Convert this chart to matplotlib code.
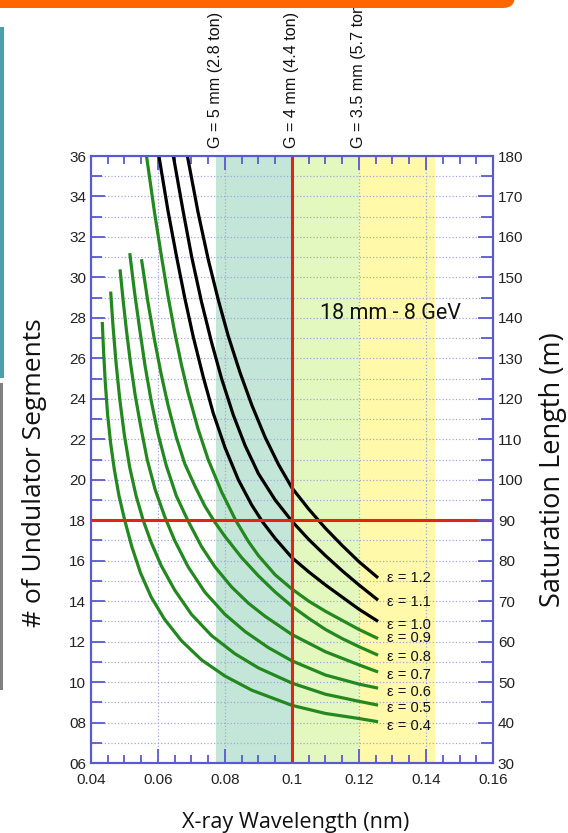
import matplotlib
matplotlib.use("Agg")
import matplotlib.pyplot as plt
from matplotlib.patches import Rectangle, FancyBboxPatch
from matplotlib.ticker import MultipleLocator, FuncFormatter
import matplotlib.transforms as mtransforms

# saturation curves: wavelength (nm) vs undulator segments
x_e04 = [0.0434, 0.0438, 0.0443, 0.0450, 0.0459, 0.0470, 0.0484, 0.0501, 0.0522, 0.0548,
         0.0580, 0.0620, 0.0670, 0.0730, 0.0800, 0.0880, 0.1000, 0.1100, 0.1200, 0.1257]
y_e04 = [27.8, 26.3, 24.8, 23.2, 21.8, 20.5, 19.2, 18.0, 16.7, 15.4,
         14.2, 13.1, 12.05, 11.1, 10.3, 9.6, 8.85, 8.45, 8.2, 8.04]
x_e05 = [0.0459, 0.0466, 0.0475, 0.0486, 0.0500, 0.0516, 0.0535, 0.0556, 0.0580, 0.0610,
         0.0650, 0.0700, 0.0760, 0.0830, 0.0900, 0.1000, 0.1100, 0.1200, 0.1257]
y_e05 = [29.3, 27.6, 25.8, 24.0, 22.2, 20.6, 19.2, 18.0, 16.9, 15.75,
         14.55, 13.35, 12.3, 11.4, 10.7, 9.95, 9.4, 9.05, 8.86]
x_e06 = [0.0487, 0.0496, 0.0506, 0.0518, 0.0532, 0.0548, 0.0568, 0.0592, 0.0621, 0.0650,
         0.0690, 0.0740, 0.0800, 0.0860, 0.0930, 0.1000, 0.1100, 0.1200, 0.1257]
y_e06 = [30.4, 28.9, 27.4, 25.8, 24.2, 22.7, 21.0, 19.5, 18.15, 17.0,
         15.7, 14.45, 13.35, 12.5, 11.7, 11.05, 10.35, 9.9, 9.7]
x_e07 = [0.0516, 0.0530, 0.0546, 0.0562, 0.0580, 0.0600, 0.0625, 0.0655, 0.0689, 0.0730,
         0.0770, 0.0820, 0.0870, 0.0920, 0.1000, 0.1100, 0.1200, 0.1257]
y_e07 = [31.2, 29.3, 27.4, 25.6, 23.9, 22.3, 20.7, 19.2, 18.0, 16.7,
         15.7, 14.7, 13.9, 13.25, 12.35, 11.5, 10.85, 10.5]
x_e08 = [0.0551, 0.0570, 0.0590, 0.0610, 0.0630, 0.0655, 0.0680, 0.0710, 0.0740, 0.0770,
         0.0800, 0.0850, 0.0900, 0.0950, 0.1000, 0.1050, 0.1100, 0.1150, 0.1200, 0.1257]
y_e08 = [30.9, 28.8, 26.9, 25.2, 23.7, 22.1, 20.8, 19.7, 18.7, 17.9,
         17.2, 16.15, 15.25, 14.45, 13.75, 13.15, 12.6, 12.15, 11.75, 11.33]
x_e09 = [0.0566, 0.0590, 0.0611, 0.0630, 0.0650, 0.0670, 0.0690, 0.0720, 0.0750, 0.0790,
         0.0832, 0.0870, 0.0900, 0.0950, 0.1000, 0.1050, 0.1100, 0.1150, 0.1200, 0.1257]
y_e09 = [36.0, 33.2, 31.0, 29.1, 27.3, 25.7, 24.3, 22.5, 21.0, 19.4,
         18.0, 16.95, 16.25, 15.3, 14.6, 14.0, 13.5, 13.05, 12.6, 12.15]
x_e10 = [0.0603, 0.0630, 0.0656, 0.0680, 0.0705, 0.0735, 0.0765, 0.0800, 0.0840, 0.0880,
         0.0913, 0.0950, 0.1000, 0.1050, 0.1100, 0.1150, 0.1200, 0.1257]
y_e10 = [36.0, 33.3, 31.0, 29.0, 27.1, 25.1, 23.3, 21.6, 20.0, 18.75,
         17.9, 17.1, 16.15, 15.45, 14.8, 14.2, 13.6, 13.0]
x_e11 = [0.0646, 0.0675, 0.0701, 0.0730, 0.0760, 0.0790, 0.0825, 0.0860, 0.0900, 0.0950,
         0.1000, 0.1050, 0.1100, 0.1150, 0.1200, 0.1257]
y_e11 = [36.0, 33.3, 31.0, 28.8, 26.8, 25.0, 23.2, 21.7, 20.3, 19.0,
         17.95, 17.05, 16.25, 15.5, 14.8, 14.05]
x_e12 = [0.0688, 0.0720, 0.0750, 0.0780, 0.0810, 0.0845, 0.0880, 0.0920, 0.0960, 0.1000,
         0.1050, 0.1100, 0.1150, 0.1200, 0.1257]
y_e12 = [36.0, 33.2, 30.9, 28.9, 27.1, 25.3, 23.7, 22.1, 20.75, 19.6,
         18.55, 17.6, 16.75, 15.95, 15.15]

eps_values = ["0.4", "0.5", "0.6", "0.7", "0.8", "0.9", "1.0", "1.1", "1.2"]
curves_x = [x_e04, x_e05, x_e06, x_e07, x_e08, x_e09, x_e10, x_e11, x_e12]
curves_y = [y_e04, y_e05, y_e06, y_e07, y_e08, y_e09, y_e10, y_e11, y_e12]
label_y = [7.82, 8.71, 9.50, 10.34, 11.23, 12.17, 12.82, 13.95, 15.14]

gap_pos = [0.0773, 0.10, 0.12]
gap_text = ["G = 5 mm (2.8 ton)", "G = 4 mm (4.4 ton)", "G = 3.5 mm (5.7 ton)"]
band_edges = [0.0773, 0.10, 0.12, 0.1427]
band_colors = ["#c4e6d9", "#e3f8be", "#fff9a9"]

target_wl = 0.1
target_seg = 18

axis_col = "#5a5ad0"
grid_col = "#a3a8dc"

fig = plt.figure(figsize=(5.68, 8.33), dpi=100)
ax = fig.add_axes([0.160, 0.084, 0.708, 0.7287])
ax.set_xlim(0.04, 0.16)
ax.set_ylim(6, 36)

for i in range(len(band_colors)):
    ax.axvspan(band_edges[i], band_edges[i+1], color=band_colors[i], lw=0, zorder=0)

ax.xaxis.set_major_locator(MultipleLocator(0.02))
ax.xaxis.set_minor_locator(MultipleLocator(0.005))
ax.yaxis.set_major_locator(MultipleLocator(2))
ax.yaxis.set_minor_locator(MultipleLocator(1))
ax.xaxis.set_major_formatter(FuncFormatter(lambda v, p: "%g" % round(v, 3)))
ax.yaxis.set_major_formatter(FuncFormatter(lambda v, p: "%02d" % int(round(v))))
ax.grid(axis="x", which="major", color=grid_col, ls=":", lw=0.9, zorder=1)
ax.grid(axis="y", which="both", color=grid_col, ls=":", lw=0.9, zorder=1)
ax.set_axisbelow(True)

ax.tick_params(which="both", direction="in", top=True, right=False,
               color=axis_col, width=1.3, labelsize=11, labelcolor="#222222")
ax.tick_params(which="major", length=10)
ax.tick_params(which="minor", length=6)
ax.tick_params(axis="y", which="minor", length=8)
ax.tick_params(axis="x", which="major", pad=7)
for lab in ax.get_xticklabels() + ax.get_yticklabels():
    lab.set_family("Liberation Sans")
for s in ax.spines.values():
    s.set_color(axis_col)
    s.set_linewidth(1.5)

for i in range(len(curves_x)):
    col = "black" if float(eps_values[i]) >= 1.0 else "#23891f"
    ax.plot(curves_x[i], curves_y[i], color=col, lw=2.3, zorder=3,
            solid_capstyle="butt", solid_joinstyle="round")
    ax.text(0.1283, label_y[i], "\u03b5 = " + eps_values[i], fontsize=10.5,
            family="Liberation Sans", ha="left", va="center", color="#111111", zorder=4)

ax.axvline(target_wl, color="#e0260e", lw=2.2, zorder=5)
ax.axhline(target_seg, color="#e0260e", lw=2.2, zorder=5)

trans = mtransforms.blended_transform_factory(ax.transData, ax.transAxes)
for xp, t in zip(gap_pos, gap_text):
    ax.text(xp, 1.013, t, transform=trans, rotation=90, ha="center", va="bottom",
            fontsize=11.6, family="Liberation Sans", color="#111111", clip_on=False)

ax.text(0.1293, 28.24, "18 mm - 8 GeV", fontsize=15.5, family="Roboto",
        ha="center", va="center", color="#111111", zorder=4)

ax2 = ax.twinx()
ax2.set_ylim(30, 180)
ax2.yaxis.set_major_locator(MultipleLocator(10))
ax2.yaxis.set_minor_locator(MultipleLocator(5))
ax2.tick_params(which="both", direction="in", color=axis_col, width=1.3,
                labelsize=11, labelcolor="#222222")
ax2.tick_params(which="major", length=11)
ax2.tick_params(which="minor", length=9)
for lab in ax2.get_yticklabels():
    lab.set_family("Liberation Sans")
for s in ax2.spines.values():
    s.set_color(axis_col)
    s.set_linewidth(1.5)

fig.text(0.0616, 0.432, "# of Undulator Segments", rotation=90, ha="center",
         va="center", fontsize=19, family="Open Sans", color="#111111")
fig.text(0.973, 0.436, "Saturation Length (m)", rotation=90, ha="center",
         va="center", fontsize=19.5, family="Open Sans", color="#111111")
fig.text(0.521, 0.0125, "X-ray Wavelength (nm)", ha="center", va="center",
         fontsize=15.6, family="Open Sans", color="#111111")

# slide decorations around the chart
fig.patches.append(FancyBboxPatch((-0.3, 8.25), 5.45, 0.5,
                                  boxstyle="round,pad=0,rounding_size=0.12",
                                  transform=fig.dpi_scale_trans, color="#ff6600",
                                  lw=0, zorder=10))
fig.patches.append(Rectangle((0, 4.55), 0.04, 3.51, transform=fig.dpi_scale_trans,
                             color="#4a9faa", lw=0, zorder=10))
fig.patches.append(Rectangle((0, 1.43), 0.03, 3.07, transform=fig.dpi_scale_trans,
                             color="#808080", lw=0, zorder=10))

fig.savefig("out.png", dpi=100)
